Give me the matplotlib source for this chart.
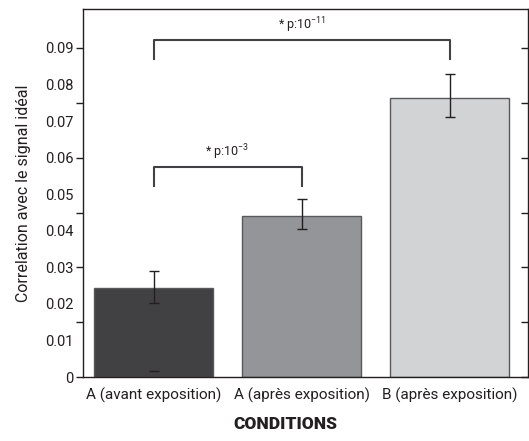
import numpy as np
import matplotlib
matplotlib.use('Agg')
import matplotlib.pyplot as plt

plt.rcParams['font.family'] = ['Roboto', 'DejaVu Sans']
plt.rcParams['mathtext.fontset'] = 'custom'
plt.rcParams['mathtext.rm'] = 'Roboto'
plt.rcParams['mathtext.it'] = 'Roboto'

# data
conditions = ['A (avant exposition)', 'A (après exposition)', 'B (après exposition)']
values = [0.0243, 0.0440, 0.0764]
err_low = [0.0040, 0.0035, 0.0054]
err_high = [0.0048, 0.0047, 0.0064]
colors = ['#414042', '#939598', '#d1d3d4']
stray_mark = 0.0016  # small dash near zero under the first bar

brackets = [
    # (left bar, right bar, top, leg bottom, label)
    (0, 1, 0.0575, 0.0522, '* p:10$^{-3}$'),
    (0, 2, 0.0922, 0.0870, '* p:10$^{-11}$'),
]

label_ticks = np.round(np.arange(0, 0.0901, 0.01), 2)
mark_ticks = np.arange(0, 0.0901, 0.015)

fig = plt.figure(figsize=(5.29, 4.41), dpi=100)
ax = fig.add_axes([0.157, 0.145, 0.841, 0.835])

x = np.arange(len(conditions))
ax.bar(x, values, width=0.8, color=colors, edgecolor='#58595b', linewidth=1, zorder=2)
ax.errorbar(x, values, yerr=[err_low, err_high], fmt='none', ecolor='#231f20',
            elinewidth=1, capsize=3.5, capthick=1, zorder=3)
ax.plot([x[0]], [stray_mark], marker='_', color='#231f20', markersize=7, zorder=3)

for i, j, top, bottom, label in brackets:
    ax.plot([x[i], x[i], x[j], x[j]], [bottom, top, top, bottom],
            color='#414042', linewidth=1.5, zorder=3)
    ax.text((x[i] + x[j]) / 2, top + 0.0013, label, ha='center', va='bottom',
            fontsize=9, color='#231f20')

ax.set_xlim(-0.476, 2.53)
ax.set_ylim(0, 0.1007)
ax.set_xticks(x)
ax.set_xticklabels(conditions, fontsize=11, color='#231f20')
ax.tick_params(axis='x', length=0, pad=8)

# labels every 0.01, tick marks every 0.015, as in the original
ax.yaxis.remove_overlapping_locs = False
ax.set_yticks(mark_ticks)
ax.set_yticklabels([])
ax.set_yticks(label_ticks, minor=True)
ax.set_yticklabels(['0' if v == 0 else f'{v:.2f}' for v in label_ticks], minor=True)
ax.tick_params(axis='y', which='major', direction='out', length=5, width=1, color='#231f20')
ax.tick_params(axis='y', which='minor', length=0, pad=7, labelsize=10.5, labelcolor='#231f20')

twin = ax.twinx()
twin.set_ylim(ax.get_ylim())
twin.set_yticks(mark_ticks)
twin.set_yticklabels([])
twin.tick_params(axis='y', direction='in', length=5, width=1, color='#231f20')
for sp in twin.spines.values():
    sp.set_visible(False)

for sp in ax.spines.values():
    sp.set_color('#231f20')
    sp.set_linewidth(1)

ax.set_ylabel('Correlation avec le signal idéal', fontsize=11.5, color='#231f20', labelpad=10)
ax.set_xlabel('CONDITIONS', fontsize=12.5, fontweight='black', color='#231f20')
ax.xaxis.set_label_coords(0.455, -0.105)

fig.savefig('out.png', dpi=100)
